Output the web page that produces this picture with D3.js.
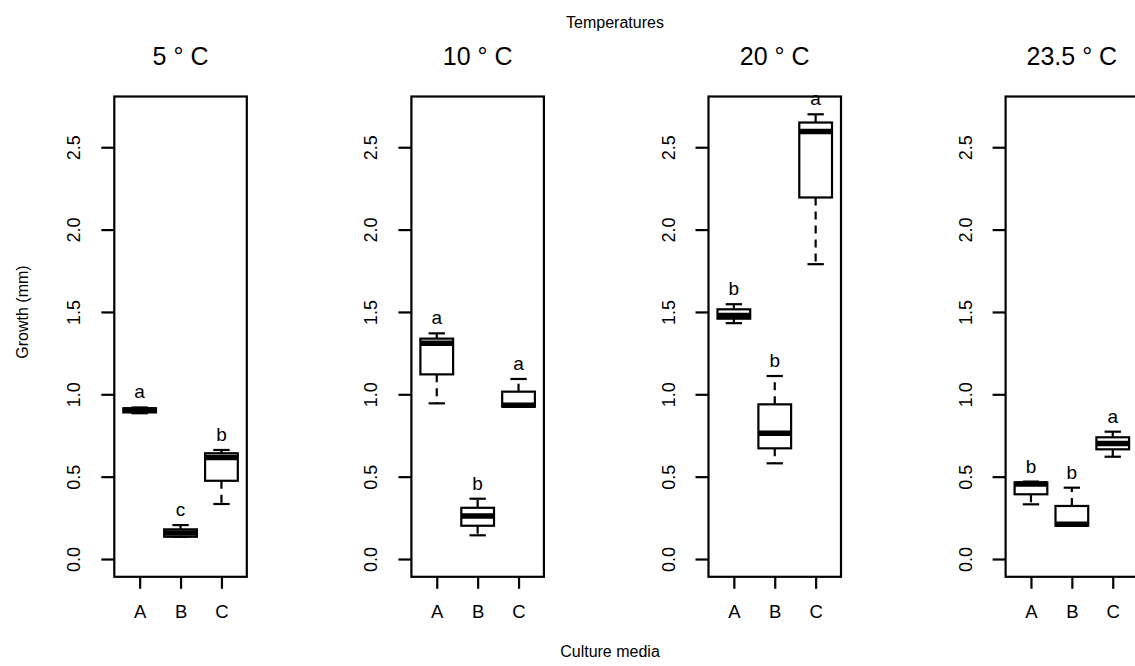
<!DOCTYPE html>
<html>
<head>
<meta charset="utf-8">
<script src="https://cdn.jsdelivr.net/npm/d3@7"></script>
<style>
  body { margin: 0; background: #fff; }
</style>
</head>
<body>
<script>
var w = 1135,
    h = 666;

var temps = ["5 ° C", "10 ° C", "20 ° C", "23.5 ° C"];
var media = ["A", "B", "C"];
var yTicks = [0, 0.5, 1, 1.5, 2, 2.5];

// one row per temperature, one value per culture medium
var lowWhisker  = [[0.885, 0.135, 0.334], [0.945, 0.144, 0.925], [1.432, 0.581, 1.79], [0.332, 0.202, 0.621]];
var lowerQ      = [[0.890, 0.135, 0.475], [1.121, 0.202, 0.925], [1.459, 0.672, 2.195], [0.393, 0.202, 0.666]];
var medians     = [[0.905, 0.158, 0.617], [1.310, 0.261, 0.933], [1.479, 0.763, 2.596], [0.455, 0.211, 0.702]];
var upperQ      = [[0.915, 0.180, 0.642], [1.338, 0.311, 1.016], [1.516, 0.939, 2.650], [0.465, 0.322, 0.739]];
var highWhisker = [[0.920, 0.206, 0.662], [1.370, 0.366, 1.093], [1.547, 1.111, 2.700], [0.470, 0.433, 0.773]];
var letters     = [["a", "c", "b"], ["a", "b", "a"], ["b", "b", "a"], ["b", "b", "a"]];

var panelLeft = 114.3,
    panelStep = 297.1,
    panelW = 132.5,
    plotTop = 96.5,
    plotBottom = 576.8;

var boxW = 0.8, capW = 0.4;

var svg = d3.select("body").append("svg")
  .attr("width", w)
  .attr("height", h)
  .style("font-family", "'Liberation Sans', Arial, Helvetica, sans-serif");

var y = d3.scaleLinear().domain([-0.108, 2.808]).range([plotBottom, plotTop]);
var x = d3.scaleLinear().domain([0.38, 3.62]).range([0, panelW]);
var unit = x(1) - x(0);

temps.forEach(function(t, i) {
  var g = svg.append("g")
    .attr("transform", "translate(" + (panelLeft + i * panelStep) + ",0)");

  // y axis
  var ya = g.append("g")
    .call(d3.axisLeft(y).tickValues(yTicks).tickSize(13).tickFormat(d3.format(".1f")))
    .attr("font-size", 18)
    .attr("font-family", null);
  ya.select(".domain").remove();
  ya.selectAll("line").attr("stroke", "#000").attr("stroke-width", 2.2);
  ya.selectAll("text")
    .attr("x", 0).attr("dy", 0)
    .attr("fill", "#000")
    .attr("text-anchor", "middle")
    .attr("transform", "translate(-34,0) rotate(-90)");

  // x axis
  var xa = g.append("g")
    .attr("transform", "translate(0," + plotBottom + ")")
    .call(d3.axisBottom(x).tickValues([1, 2, 3]).tickSize(12).tickFormat(function(d) { return media[d - 1]; }))
    .attr("font-size", 18.5)
    .attr("font-family", null);
  xa.select(".domain").remove();
  xa.selectAll("line").attr("stroke", "#000").attr("stroke-width", 2.2);
  xa.selectAll("text").attr("y", 41.5).attr("dy", 0).attr("fill", "#000");

  var rows = media.map(function(m, j) {
    return {
      k: j + 1,
      lo: lowWhisker[i][j], q1: lowerQ[i][j], med: medians[i][j],
      q3: upperQ[i][j], hi: highWhisker[i][j], letter: letters[i][j]
    };
  });

  var b = g.selectAll("g.box").data(rows).enter().append("g").attr("class", "box");

  // dashed whiskers
  b.append("line")
    .attr("x1", function(d) { return x(d.k); })
    .attr("x2", function(d) { return x(d.k); })
    .attr("y1", function(d) { return y(d.q3); })
    .attr("y2", function(d) { return y(d.hi); })
    .attr("stroke", "#000").attr("stroke-width", 2.2).attr("stroke-dasharray", "8,6");
  b.append("line")
    .attr("x1", function(d) { return x(d.k); })
    .attr("x2", function(d) { return x(d.k); })
    .attr("y1", function(d) { return y(d.q1); })
    .attr("y2", function(d) { return y(d.lo); })
    .attr("stroke", "#000").attr("stroke-width", 2.2).attr("stroke-dasharray", "8,6");

  // caps
  ["hi", "lo"].forEach(function(key) {
    b.append("line")
      .attr("x1", function(d) { return x(d.k) - capW / 2 * unit; })
      .attr("x2", function(d) { return x(d.k) + capW / 2 * unit; })
      .attr("y1", function(d) { return y(d[key]); })
      .attr("y2", function(d) { return y(d[key]); })
      .attr("stroke", "#000").attr("stroke-width", 2.2);
  });

  b.append("rect")
    .attr("x", function(d) { return x(d.k) - boxW / 2 * unit; })
    .attr("y", function(d) { return y(d.q3); })
    .attr("width", boxW * unit)
    .attr("height", function(d) { return y(d.q1) - y(d.q3); })
    .attr("fill", "#fff").attr("stroke", "#000").attr("stroke-width", 2.2);

  b.append("line")
    .attr("x1", function(d) { return x(d.k) - boxW / 2 * unit; })
    .attr("x2", function(d) { return x(d.k) + boxW / 2 * unit; })
    .attr("y1", function(d) { return y(d.med); })
    .attr("y2", function(d) { return y(d.med); })
    .attr("stroke", "#000").attr("stroke-width", 5.5);

  b.append("text")
    .attr("x", function(d) { return x(d.k); })
    .attr("y", function(d) { return y(d.hi + 0.085) + 5; })
    .attr("text-anchor", "middle")
    .attr("font-size", 19)
    .text(function(d) { return d.letter; });

  // frame
  g.append("rect")
    .attr("x", 0).attr("y", plotTop)
    .attr("width", panelW).attr("height", plotBottom - plotTop)
    .attr("fill", "none").attr("stroke", "#000").attr("stroke-width", 2.2);

  g.append("text")
    .attr("x", panelW / 2).attr("y", 64.5)
    .attr("text-anchor", "middle")
    .attr("font-size", 25)
    .text(t);
});

svg.append("text")
  .attr("x", 615).attr("y", 28)
  .attr("text-anchor", "middle")
  .attr("font-size", 16)
  .text("Temperatures");

svg.append("text")
  .attr("x", 610).attr("y", 657)
  .attr("text-anchor", "middle")
  .attr("font-size", 16)
  .text("Culture media");

svg.append("text")
  .attr("transform", "translate(28,312) rotate(-90)")
  .attr("text-anchor", "middle")
  .attr("font-size", 16)
  .text("Growth (mm)");
</script>
</body>
</html>
